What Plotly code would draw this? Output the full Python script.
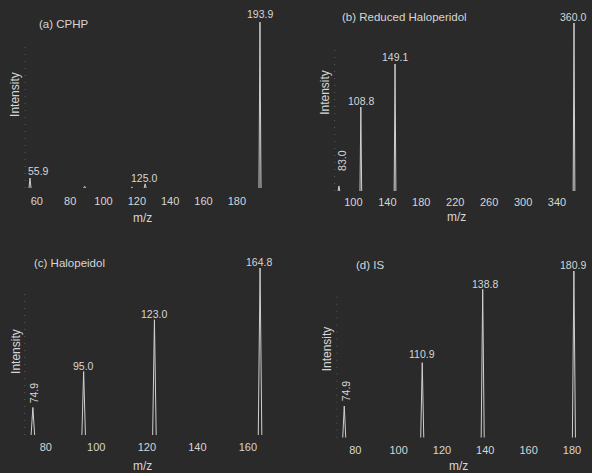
import plotly.graph_objects as go

W, H = 592, 473
BG = "#2a2a2a"
FG = "#d6d6d6"
LINE = "#d0d0d0"
FONT = "Liberation Sans, Arial, sans-serif"

# ---- data (m/z, relative intensity) ----
a_mz = [55.9, 88.7, 117.0, 125.0, 193.9]
a_int = [0.06, 0.010, 0.005, 0.025, 1.0]
a_labels = ["55.9", "", "", "125.0", "193.9"]

b_mz = [83.0, 108.8, 149.1, 360.0]
b_int = [0.03, 0.50, 0.756, 1.0]
b_labels = ["83.0", "108.8", "149.1", "360.0"]

c_mz = [74.9, 95.0, 123.0, 164.8]
c_int = [0.165, 0.38, 0.69, 1.0]
c_labels = ["74.9", "95.0", "123.0", "164.8"]

d_mz = [74.9, 110.9, 138.8, 180.9]
d_int = [0.19, 0.45, 0.89, 1.0]
d_labels = ["74.9", "110.9", "138.8", "180.9"]

a_ticks = [60, 80, 100, 120, 140, 160, 180]
b_ticks = [100, 140, 180, 220, 260, 300, 340]
c_ticks = [80, 100, 120, 140, 160]
d_ticks = [80, 100, 120, 140, 160, 180]

titles = ["(a) CPHP", "(b) Reduced Haloperidol", "(c) Halopeidol", "(d) IS"]

# ---- layout / style per panel ----
panels = [
    dict(mz=a_mz, inten=a_int, labels=a_labels, ticks=a_ticks, xr=[53, 197],
         px=(25.3, 266.5), py=(188, 22), hw=0.6, ticklen=3,
         lab_off=[(8, 7, 0), (0, 0, 0), (0, 0, 0), (-1, 6, 0), (0, 8, 0)],
         title_pos=(64.5, 24), mz_pos=(143, 218), int_pos=(15, 94)),
    dict(mz=b_mz, inten=b_int, labels=b_labels, ticks=b_ticks, xr=[78, 363],
         px=(336.4, 579.5), py=(191, 23), hw=1.0, ticklen=1,
         lab_off=[(3, 26, -90), (0, 6, 0), (0, 7, 0), (-1, 6, 0)],
         title_pos=(406.5, 17), mz_pos=(459, 217), int_pos=(326, 92.5)),
    dict(mz=c_mz, inten=c_int, labels=c_labels, ticks=c_ticks, xr=[71.7, 166.5],
         px=(24.9, 265.7), py=(435, 268), hw=0.7, ticklen=2,
         lab_off=[(1.5, 14.5, -90), (0, 6, 0), (0, 6, 0), (-1, 6, 0)],
         title_pos=(69.5, 262.7), mz_pos=(143, 466), int_pos=(16, 351)),
    dict(mz=d_mz, inten=d_int, labels=d_labels, ticks=d_ticks, xr=[71.5, 183],
         px=(338.6, 581.4), py=(437.7, 271), hw=0.7, ticklen=2,
         lab_off=[(2, 15, -90), (0, 8.5, 0), (2, 5, 0), (-1, 6, 0)],
         title_pos=(372, 265), mz_pos=(461, 466), int_pos=(328.7, 349.3)),
]

fig = go.Figure()
annotations = []
shapes = []

for i, p in enumerate(panels, start=1):
    xs, ys = [], []
    for m, h in zip(p["mz"], p["inten"]):
        xs += [m - p["hw"], m, m + p["hw"], None]
        ys += [0, h, 0, None]
    xa = "x" if i == 1 else f"x{i}"
    ya = "y" if i == 1 else f"y{i}"
    fig.add_trace(go.Scatter(x=xs, y=ys, mode="lines", xaxis=xa, yaxis=ya,
                             line=dict(color=LINE, width=1), hoverinfo="skip",
                             showlegend=False))
    xd = [p["px"][0] / W, p["px"][1] / W]
    yd = [1 - p["py"][0] / H, 1 - p["py"][1] / H]
    key = "" if i == 1 else str(i)
    fig.update_layout(**{
        f"xaxis{key}": dict(domain=xd, range=p["xr"], anchor=ya, tickvals=p["ticks"],
                            showgrid=False, zeroline=False, showline=False,
                            ticks="outside", ticklen=p["ticklen"], tickcolor=BG,
                            tickfont=dict(size=11, color=FG, family=FONT)),
        f"yaxis{key}": dict(domain=yd, range=[0, 1], anchor=xa, showgrid=False,
                            zeroline=False, showline=False, showticklabels=False),
    })
    # faint dotted y axis
    shapes.append(dict(type="line", xref=f"{xa} domain", yref=f"{ya} domain",
                       x0=0, x1=0, y0=0, y1=0.85,
                       line=dict(color="#5a5a5a", width=1, dash="1px,6px")))
    # peak labels
    for m, h, t, (dx, dy, ang) in zip(p["mz"], p["inten"], p["labels"], p["lab_off"]):
        if not t:
            continue
        annotations.append(dict(x=m, y=h, xref=xa, yref=ya, text=t, showarrow=False,
                                xanchor="center", yanchor="middle", xshift=dx, yshift=dy,
                                textangle=ang,
                                font=dict(size=10.5, color=FG, family=FONT)))
    # texts in paper coordinates
    tx, ty = p["title_pos"]
    annotations.append(dict(x=tx / W, y=1 - ty / H, xref="paper", yref="paper",
                            text=titles[i - 1], showarrow=False, xanchor="center",
                            yanchor="middle", font=dict(size=11.5, color=FG, family=FONT)))
    mx, my = p["mz_pos"]
    annotations.append(dict(x=mx / W, y=1 - my / H, xref="paper", yref="paper",
                            text="m/z", showarrow=False, xanchor="center",
                            yanchor="middle", font=dict(size=12, color=FG, family=FONT)))
    ix, iy = p["int_pos"]
    annotations.append(dict(x=ix / W, y=1 - iy / H, xref="paper", yref="paper",
                            text="Intensity", showarrow=False, xanchor="center",
                            yanchor="middle", textangle=-90,
                            font=dict(size=12, color=FG, family=FONT)))

fig.update_layout(width=W, height=H, margin=dict(l=0, r=0, t=0, b=0),
                  paper_bgcolor=BG, plot_bgcolor=BG, annotations=annotations,
                  shapes=shapes, showlegend=False)

fig.write_html("out.html", config={"displayModeBar": False},
               post_script="document.body.style.margin='0';"
                           "document.body.style.background='" + BG + "';")
